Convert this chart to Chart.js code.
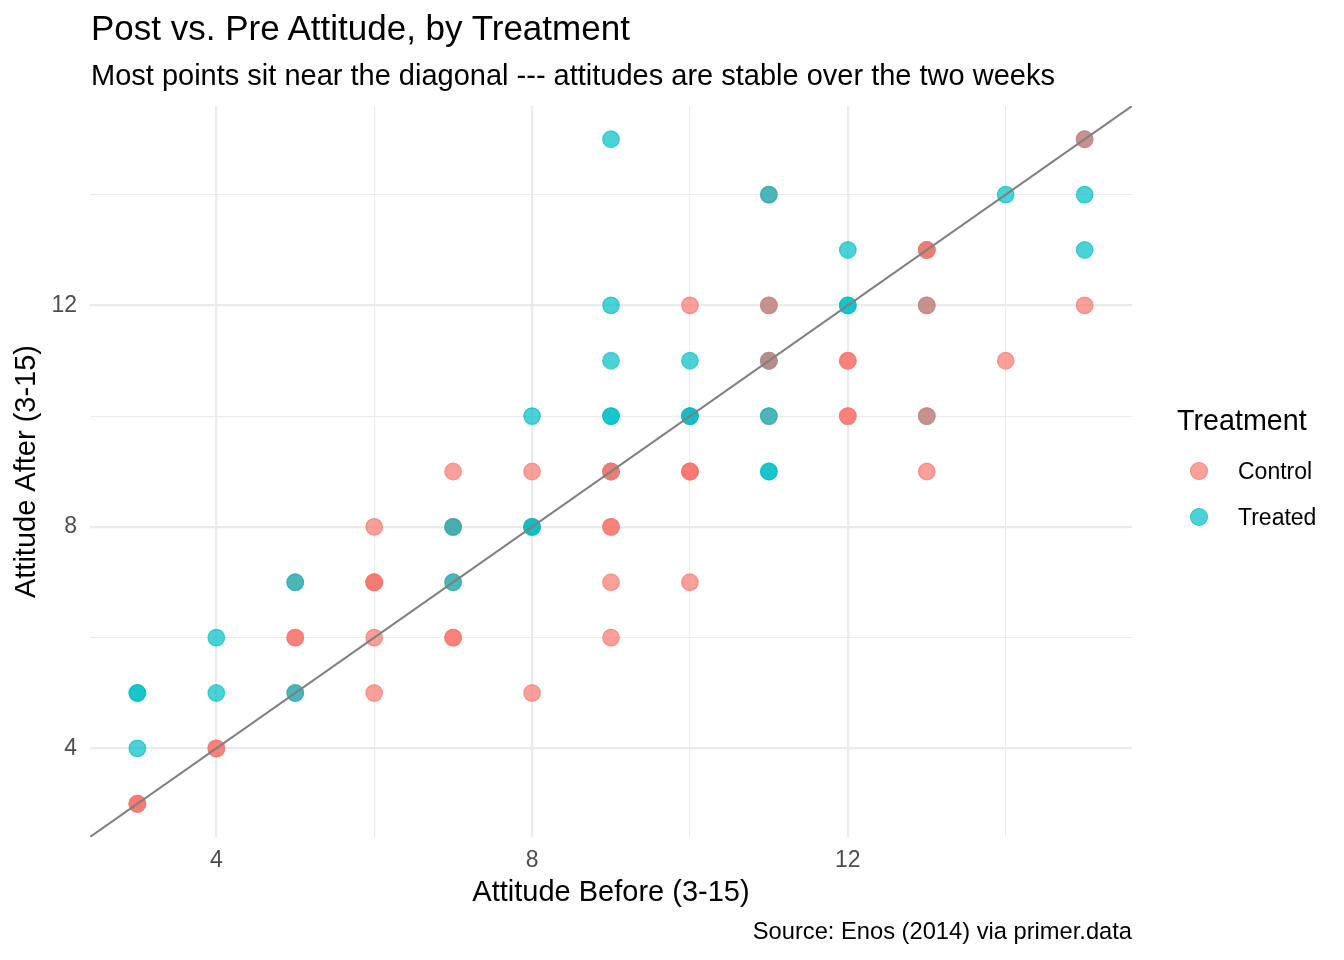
<!DOCTYPE html>
<html>
<head>
<meta charset="utf-8">
<title>Post vs. Pre Attitude, by Treatment</title>
<script src="https://cdn.jsdelivr.net/npm/chart.js@4.4.1/dist/chart.umd.min.js"></script>
<style>
  body { margin: 0; background: #fff; font-family: "Liberation Sans", Arial, sans-serif; }
  #wrap { position: relative; width: 1344px; height: 960px; overflow: hidden; }
  #myChart { position: absolute; left: 0; top: 0; }
  .txt { position: absolute; line-height: 1; white-space: nowrap; color: #000; }
  #title { left: 91px; top: 10px; font-size: 35px; }
  #subtitle { left: 91px; top: 61px; font-size: 29px; }
  #caption { right: 212px; top: 920px; font-size: 23.7px; }
  #legTitle { left: 1177px; top: 406px; font-size: 28.7px; }
  .legItem { left: 1238px; font-size: 23px; }
  .dot { position: absolute; width: 16px; height: 16px; border-radius: 50%; box-sizing: content-box; }
</style>
</head>
<body>
<div id="wrap">
  <canvas id="myChart" width="1344" height="960"></canvas>
  <div class="txt" id="title">Post vs. Pre Attitude, by Treatment</div>
  <div class="txt" id="subtitle">Most points sit near the diagonal --- attitudes are stable over the two weeks</div>
  <div class="txt" id="caption">Source: Enos (2014) via primer.data</div>
  <div class="txt" id="legTitle">Treatment</div>
  <div class="dot" id="dotControl" style="left:1190px; top:462px;"></div>
  <div class="txt legItem" style="top:460px;">Control</div>
  <div class="dot" id="dotTreated" style="left:1190px; top:508px;"></div>
  <div class="txt legItem" style="top:506px;">Treated</div>
</div>
<script>
// attitude scores (3-15), one entry per respondent
// control respondents drawn beneath the treated ones
var controlPre  = [3, 3, 3, 4, 4, 5, 5, 5, 5, 6, 6, 6, 6, 6, 6, 7, 7, 7, 7, 7, 7, 8, 8, 8, 9, 9, 9, 9,
                   10, 10, 10, 10, 10, 10, 11, 11, 12, 12, 12, 12, 13, 14, 15];
var controlPost = [3, 3, 3, 4, 4, 5, 6, 6, 7, 5, 6, 7, 7, 7, 8, 6, 6, 7, 8, 8, 9, 5, 8, 9, 6, 7, 8, 8,
                   7, 9, 9, 9, 10, 12, 10, 14, 10, 10, 11, 11, 9, 11, 12];
var treatedPre  = [3, 3, 3, 4, 4, 5, 5, 7, 7, 8, 8, 8, 9, 9, 9, 9, 9, 9, 10, 10, 10,
                   11, 11, 11, 11, 11, 11, 11, 12, 12, 12, 13, 13, 13, 14, 15, 15, 15];
var treatedPost = [4, 5, 5, 5, 6, 5, 7, 7, 8, 8, 8, 10, 9, 10, 10, 11, 12, 15, 10, 10, 11,
                   9, 9, 10, 11, 11, 12, 14, 12, 12, 13, 10, 12, 13, 14, 13, 14, 15];
// control respondents that sit on top of treated ones at the same spot
var controlTopPre  = [9, 9, 11, 11, 13, 13, 13, 13, 15];
var controlTopPost = [9, 9, 11, 12, 10, 12, 13, 13, 15];

var axisMin = 2.4;
var axisMax = 15.6;
var gridValues = [4, 6, 8, 10, 12, 14];
var tickLabels = [4, 8, 12];

var controlColor = 'rgba(248, 118, 109, 0.7)';
var treatedColor = 'rgba(0, 191, 196, 0.7)';

document.getElementById('dotControl').style.background = controlColor;
document.getElementById('dotControl').style.border = '1.3px solid ' + controlColor;
document.getElementById('dotTreated').style.background = treatedColor;
document.getElementById('dotTreated').style.border = '1.3px solid ' + treatedColor;

function toPoints(xs, ys) {
  var pts = [];
  for (var i = 0; i < xs.length; i++) {
    pts.push({ x: xs[i], y: ys[i] });
  }
  return pts;
}

function pointSet(label, xs, ys, color, order) {
  return {
    label: label,
    data: toPoints(xs, ys),
    backgroundColor: color,
    borderColor: color,
    borderWidth: 1.2,
    pointRadius: 8.3,
    order: order
  };
}

Chart.defaults.font.family = '"Liberation Sans", Arial, sans-serif';

function gridWidth(ctx) {
  return ctx.tick && ctx.tick.value % 4 === 0 ? 2.2 : 1.1;
}

var graph = document.getElementById('myChart');

var myChart = new Chart(graph, {
  type: 'scatter',
  data: {
    datasets: [
      pointSet('Control', controlPre, controlPost, controlColor, 3),
      pointSet('Treated', treatedPre, treatedPost, treatedColor, 2),
      pointSet('Control', controlTopPre, controlTopPost, controlColor, 1),
      {
        // 45 degree reference line: post = pre
        type: 'line',
        label: 'post = pre',
        data: [{ x: axisMin, y: axisMin }, { x: axisMax, y: axisMax }],
        borderColor: '#7F7F7F',
        borderWidth: 2,
        pointRadius: 0,
        showLine: true,
        order: 0
      }
    ]
  }, //ends data
  options: {
    responsive: false,
    animation: false,
    events: [],
    layout: { padding: { top: 106, right: 212, bottom: 0, left: 0 } },
    plugins: {
      legend: { display: false },
      tooltip: { enabled: false }
    },
    scales: {
      x: {
        type: 'linear',
        min: axisMin,
        max: axisMax,
        afterBuildTicks: function (scale) {
          scale.ticks = gridValues.map(function (v) { return { value: v }; });
        },
        afterFit: function (scale) { scale.height = 123; },
        grid: { color: '#EBEBEB', lineWidth: gridWidth, drawTicks: false },
        border: { display: false },
        ticks: {
          autoSkip: false,
          maxRotation: 0,
          padding: 10,
          color: '#4D4D4D',
          font: { size: 23 },
          callback: function (v) { return tickLabels.indexOf(v) >= 0 ? String(v) : ''; }
        },
        title: {
          display: true,
          text: 'Attitude Before (3-15)',
          color: '#000',
          font: { size: 29 },
          padding: { top: 0, bottom: 50 }
        }
      },
      y: {
        type: 'linear',
        min: axisMin,
        max: axisMax,
        afterBuildTicks: function (scale) {
          scale.ticks = gridValues.map(function (v) { return { value: v }; });
        },
        afterFit: function (scale) { scale.width = 90; },
        grid: { color: '#EBEBEB', lineWidth: gridWidth, drawTicks: false },
        border: { display: false },
        ticks: {
          autoSkip: false,
          padding: 13,
          color: '#4D4D4D',
          font: { size: 23 },
          callback: function (v) { return tickLabels.indexOf(v) >= 0 ? String(v) : ''; }
        },
        title: {
          display: true,
          text: 'Attitude After (3-15)',
          color: '#000',
          font: { size: 29 },
          padding: { top: 10, bottom: 0 }
        }
      }
    }
  }
}); // ends the entire variable
</script>
</body>
</html>
